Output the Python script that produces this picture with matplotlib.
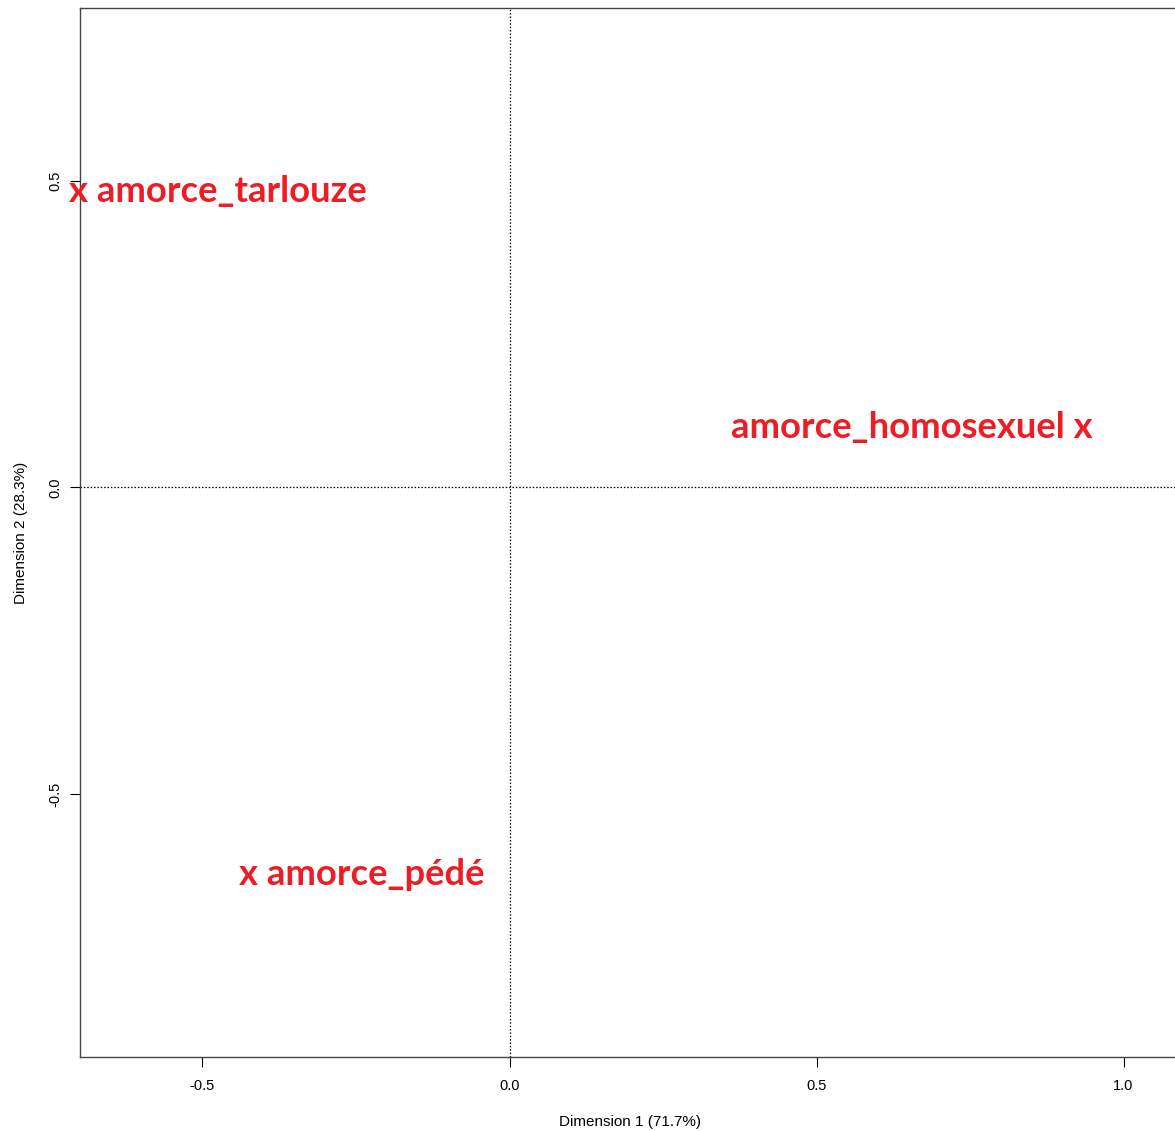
import matplotlib.pyplot as plt

# Category coordinates on the two dimensions
labels = ["amorce_tarlouze", "amorce_homosexuel", "amorce_pédé"]
dim1 = [-0.704, 0.936, -0.427]
dim2 = [0.483, 0.098, -0.632]
# which side of the marker the label sits on
label_side = ["right", "left", "right"]

fig = plt.figure(figsize=(11.75, 11.31), dpi=100)
ax = fig.add_axes([80 / 1175, 74 / 1131, 1100 / 1175, 1049 / 1131])

ax.set_xlim(-0.6995, 1.092)
ax.set_ylim(-0.929, 0.782)

ax.axhline(0, color="black", linestyle=(0, (1.2, 1.5)), linewidth=0.9)
ax.axvline(0, color="black", linestyle=(0, (1.2, 1.5)), linewidth=0.9)

red = "#ee1c25"
for lab, x, y, side in zip(labels, dim1, dim2, label_side):
    if side == "right":
        txt, ha, dx = "x " + lab, "left", -8
    else:
        txt, ha, dx = lab + " x", "right", 8
    ax.annotate(txt, (x, y), xytext=(dx, 0), textcoords="offset pixels",
                ha=ha, va="center", color=red, fontsize=26.2,
                fontfamily="Lato", fontweight="bold",
                annotation_clip=False, clip_on=False)

ax.set_xticks([-0.5, 0.0, 0.5, 1.0])
ax.set_xticklabels(["-0.5", "0.0", "0.5", "1.0"])
ax.set_yticks([-0.5, 0.0, 0.5])
ax.set_yticklabels(["-0.5", "0.0", "0.5"], rotation=90, va="center")
ax.tick_params(length=7.5, width=0.8, labelsize=10.5)
ax.tick_params(axis="x", pad=8)
ax.tick_params(axis="y", pad=5)
for lbl in ax.get_xticklabels() + ax.get_yticklabels():
    lbl.set_fontfamily("Liberation Sans")

ax.set_xlabel("Dimension 1 (71.7%)", fontsize=11, fontfamily="Liberation Sans", labelpad=16)
ax.set_ylabel("Dimension 2 (28.3%)", fontsize=11, fontfamily="Liberation Sans", labelpad=15)

for s in ax.spines.values():
    s.set_color("#444444")
    s.set_linewidth(1.0)

fig.savefig("out.png", dpi=100)
